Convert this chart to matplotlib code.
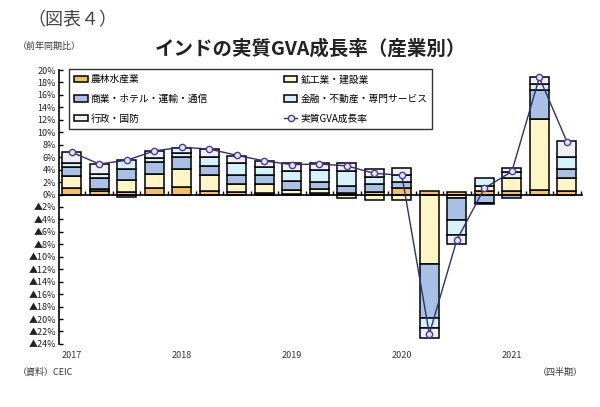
import numpy as np
import matplotlib.pyplot as plt

plt.rcParams['font.family'] = ['Noto Sans CJK JP', 'DejaVu Sans']

# quarterly data, 2017Q1 - 2021Q3 (contribution, %pt)
quarters = ['2017Q1', '2017Q2', '2017Q3', '2017Q4',
            '2018Q1', '2018Q2', '2018Q3', '2018Q4',
            '2019Q1', '2019Q2', '2019Q3', '2019Q4',
            '2020Q1', '2020Q2', '2020Q3', '2020Q4',
            '2021Q1', '2021Q2', '2021Q3']
year_labels = ['2017', '2018', '2019', '2020', '2021']

agri = [1.1, 0.5, 0.4, 1.0, 1.25, 0.5, 0.4, 0.3, 0.1, 0.25,
        0.3, 0.4, 1.0, 0.5, 0.4, 0.6, 0.5, 0.7, 0.6]
industry = [1.8, 0.4, 1.9, 2.3, 2.8, 2.6, 1.35, 1.45, 0.7, 0.7,
            -0.6, -0.9, -0.9, -11.2, -0.6, 0.7, 2.2, 11.4, 2.1]
trade = [1.5, 1.7, 1.8, 2.0, 1.9, 1.5, 1.35, 1.45, 1.35, 1.1,
         1.0, 1.35, 1.0, -8.6, -3.5, -1.4, -0.5, 4.7, 1.35]
finance = [0.6, 0.7, 1.5, 0.6, 0.7, 1.5, 1.9, 1.25, 1.7, 1.9,
           2.4, 1.1, 1.2, -1.6, -2.4, 1.3, 0.9, 0.9, 2.0]
admin = [1.9, 1.6, -0.4, 1.1, 0.9, 1.2, 1.25, 1.0, 1.15, 1.1,
         1.3, 1.25, 1.1, -1.6, -1.4, -0.2, 0.7, 1.1, 2.6]
gva = [6.8, 4.9, 5.5, 7.0, 7.6, 7.3, 6.3, 5.4, 4.8, 4.9,
       4.6, 3.4, 3.1, -22.4, -7.3, 1.0, 3.7, 18.8, 8.5]

names = ['農林水産業', '鉱工業・建設業', '商業・ホテル・運輸・通信',
         '金融・不動産・専門サービス', '行政・国防']
colors = ['#F2C35C', '#FFF6C6', '#A9C1E4', '#D5F2FB', '#EFEFF6']

fig = plt.figure(figsize=(6, 4.07), dpi=100)
ax = fig.add_axes([0.098, 0.155, 0.872, 0.673])

x = np.arange(len(quarters))
pos = np.zeros(len(x))
neg = np.zeros(len(x))
bars = []
for vals, name, col in zip([agri, industry, trade, finance, admin], names, colors):
    v = np.array(vals)
    bottom = np.where(v >= 0, pos, neg)
    b = ax.bar(x, v, 0.7, bottom=bottom, color=col, edgecolor='black',
               linewidth=1.1, label=name, zorder=2)
    pos = pos + np.clip(v, 0, None)
    neg = neg + np.clip(v, None, 0)
    bars.append(b)

line, = ax.plot(x, gva, color='#2E2E7A', linewidth=1.0, marker='o',
                markersize=4.5, markerfacecolor='#E6E6F8',
                markeredgecolor='#4A3A9A', markeredgewidth=1.0,
                label='実質GVA成長率', zorder=3)

ax.set_xlim(-0.47, 18.55)
ax.set_ylim(-24, 20)
yt = np.arange(-24, 21, 2)
ax.set_yticks(yt)
ax.set_yticklabels([('▲%d%%' % -v) if v < 0 else ('%d%%' % v) for v in yt],
                   fontsize=6.5, color='#222222')
ax.tick_params(axis='y', direction='in', length=3, width=1.0, pad=2)

ax.set_xticks([])
ax.set_xticks(np.arange(len(x)) + 0.5, minor=True)
ax.tick_params(axis='x', which='minor', direction='in', length=3, width=1.0)

ax.spines['top'].set_visible(False)
ax.spines['right'].set_visible(False)
ax.spines['bottom'].set_position(('data', 0))
ax.spines['bottom'].set_linewidth(1.2)
ax.spines['left'].set_linewidth(1.2)

for i, yr in enumerate(year_labels):
    ax.text(i * 4, -25.8, yr, ha='center', va='center', fontsize=6.5,
            color='#333333')

# legend, row order like the original
order = [bars[0], bars[2], bars[4], bars[1], bars[3], line]
leg = ax.legend(order, [h.get_label() for h in order], ncol=2,
                loc='upper left', bbox_to_anchor=(0.011, 0.77, 0.712, 0.25),
                mode='expand', fontsize=7, frameon=True, fancybox=False,
                edgecolor='black', labelspacing=1.0, handlelength=1.4,
                handleheight=0.6, handletextpad=0.3, borderpad=0.5)
leg.get_frame().set_linewidth(1.0)

fig.text(0.045, 0.95, '（図表４）', fontsize=13, color='#444444', va='center')
fig.text(0.517, 0.88, 'インドの実質GVA成長率（産業別）', fontsize=14,
         fontweight='bold', color='#222222', ha='center', va='center')
fig.text(0.03, 0.885, '（前年同期比）', fontsize=6.5, color='#333333', va='center')
fig.text(0.03, 0.086, '（資料）CEIC', fontsize=6.5, color='#333333', va='center')
fig.text(0.972, 0.086, '（四半期）', fontsize=6.5, color='#333333',
         va='center', ha='right')

fig.savefig('out.png', dpi=100)
